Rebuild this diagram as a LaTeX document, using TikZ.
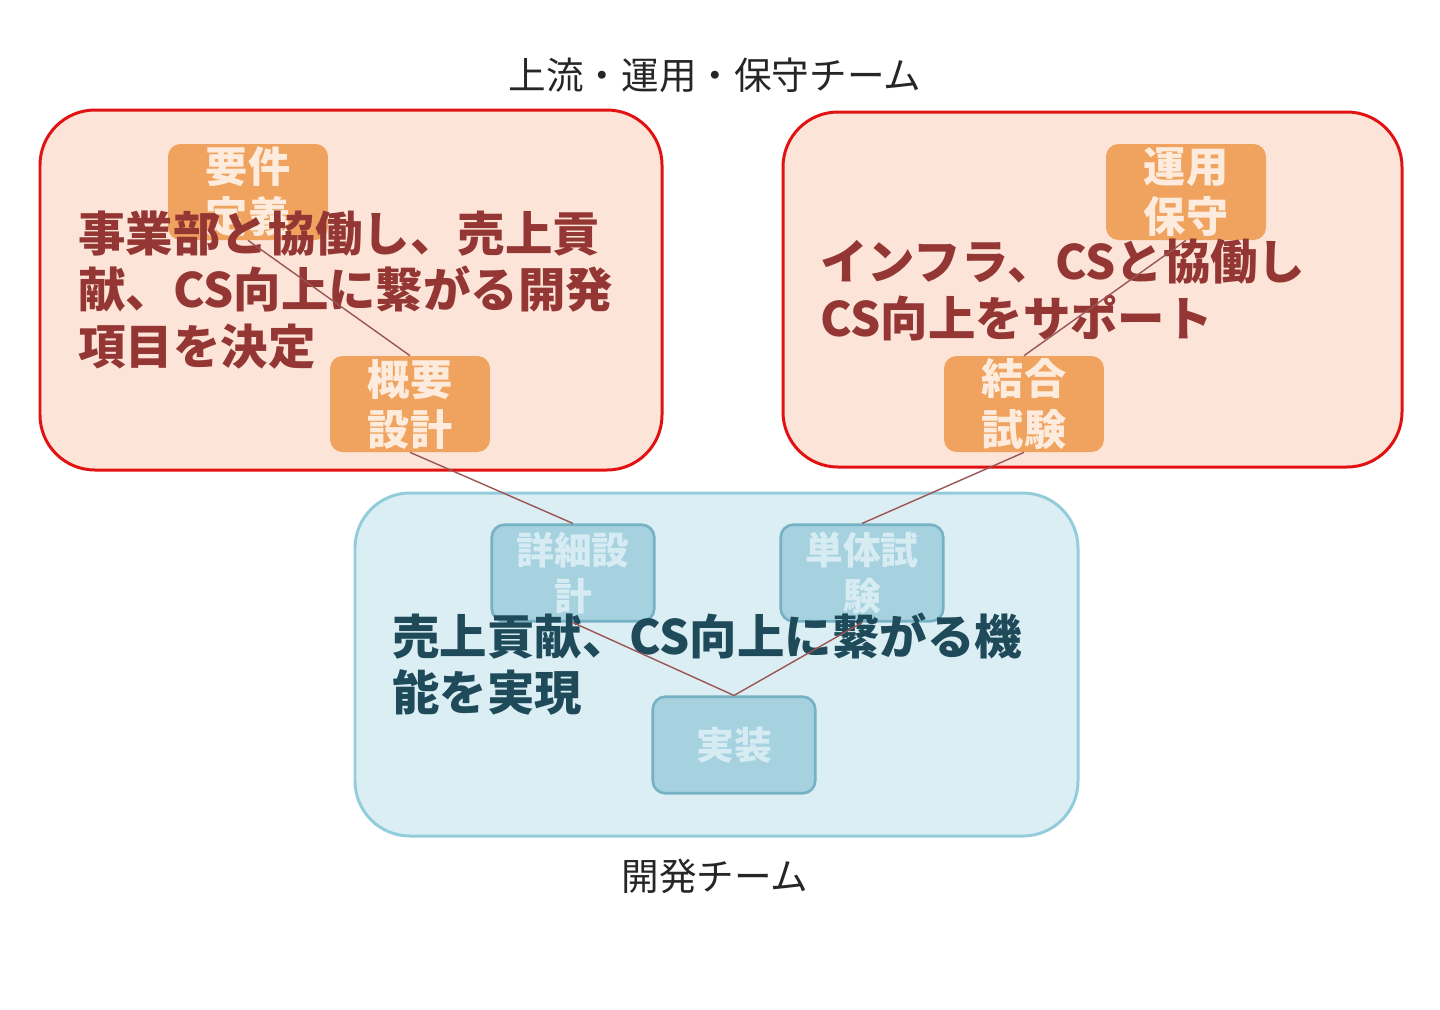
\documentclass[tikz,border=0pt]{standalone}
\usepackage{fontspec}
\setmainfont{Noto Sans CJK JP}
\usepackage{tikz}
\usepackage{xcolor}

\definecolor{peach}{RGB}{252,229,216}
\definecolor{teamred}{RGB}{226,18,18}
\definecolor{phaseorange}{RGB}{240,163,95}
\definecolor{phasetext}{RGB}{253,236,222}
\definecolor{goalred}{RGB}{148,54,52}
\definecolor{paleblue}{RGB}{219,238,244}
\definecolor{teamblue}{RGB}{147,204,219}
\definecolor{phaseblue}{RGB}{166,210,224}
\definecolor{phaseedge}{RGB}{118,178,196}
\definecolor{phasebluetext}{RGB}{214,235,242}
\definecolor{goalteal}{RGB}{30,74,90}
\definecolor{vline}{RGB}{155,85,85}

\tikzset{
  team/.style={line width=1.7pt, rounded corners=1.1cm},
  orangephase/.style={fill=phaseorange, rounded corners=0.25cm, minimum width=3.2cm, minimum height=1.92cm,
    text=phasetext, font=\fontsize{24}{28.5}\selectfont\bfseries, align=center, inner sep=0pt},
  bluephase/.style={fill=phaseblue, draw=phaseedge, line width=1.5pt, rounded corners=0.25cm, minimum width=3.25cm,
    minimum height=1.93cm, text=phasebluetext, font=\fontsize{21.5}{26.6}\selectfont\bfseries, align=center, inner sep=0pt},
  goal/.style={anchor=west, align=left, inner sep=0pt, font=\fontsize{27}{32.3}\selectfont\bfseries},
  vlink/.style={draw=vline, line width=0.8pt},
  caption/.style={font=\fontsize{21.4}{25}\selectfont, text=black!85}
}

\begin{document}
\begin{tikzpicture}[x=0.02cm, y=-0.02cm]
\useasboundingbox (0,0) rectangle (1440,1009);

% Draw the team areas
\draw [team, fill=peach, draw=teamred] (40,110) rectangle (662,470);
\draw [team, fill=peach, draw=teamred] (783,112) rectangle (1402,467);
\draw [team, fill=paleblue, draw=teamblue] (355,493) rectangle (1078,836);

% Team names
\node[caption] (upper) at (715,75) {上流・運用・保守チーム};
\node[caption] (dev) at (715,876) {開発チーム};

% Phases (left leg)
\node[orangephase] (yoken) at (248,192) {要件\\定義};
\node[orangephase] (gaiyo) at (410,404) {概要\\設計};
\node[bluephase] (shosai) at (573,573) {詳細設\\計};

% Phases (bottom and right leg)
\node[bluephase] (jisso) at (734,745) {実装};
\node[bluephase] (tantai) at (862,573) {単体試\\験};
\node[orangephase] (ketsugo) at (1024,404) {結合\\試験};
\node[orangephase] (unyo) at (1186,192) {運用\\保守};

% Goals of each team
\node[goal, text=goalred] (goalL) at (78,290) {事業部と協働し、売上貢\\献、CS向上に繋がる開発\\項目を決定};
\node[goal, text=goalred] (goalR) at (820,290) {インフラ、CSと協働し\\CS向上をサポート};
\node[goal, text=goalteal] (goalB) at (392,664) {売上貢献、CS向上に繋がる機\\能を実現};

% Draw the V
\draw[vlink] (yoken.south) -- (gaiyo.north);
\draw[vlink] (gaiyo.south) -- (shosai.north);
\draw[vlink] (shosai.south) -- (jisso.north);
\draw[vlink] (jisso.north) -- (tantai.south);
\draw[vlink] (tantai.north) -- (ketsugo.south);
\draw[vlink] (ketsugo.north) -- (unyo.south);
\end{tikzpicture}
\end{document}
